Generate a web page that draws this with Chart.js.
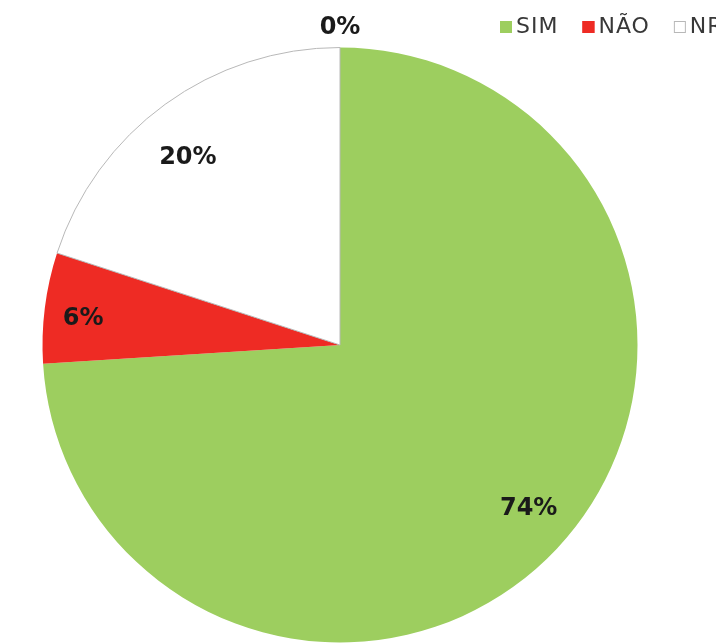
<!DOCTYPE html>
<html>
<head>
<meta charset="utf-8">
<script src="https://cdn.jsdelivr.net/npm/chart.js@4/dist/chart.umd.min.js"></script>
<style>
  html, body { margin: 0; padding: 0; background: #fff; }
  #grafico { display: block; }
</style>
</head>
<body>
<canvas id="grafico" width="716" height="643"></canvas>
<script>
// datos del grafico
const categorias = ["SIM", "NÃO", "NR", "NS"];
const valores = [74, 6, 20, 0];
const colores = ["#9dce5f", "#ee2b24", "#ffffff", "#a5a5a5"];
const bordes = ["#9dce5f", "#ee2b24", "#b8b8b8", "#a5a5a5"];

// etiquetas de porcentaje sobre cada porcion
const etiquetasPlugin = {
    id: "etiquetas",
    afterDatasetsDraw(chart) {
        const ctx = chart.ctx;
        const meta = chart.getDatasetMeta(0);
        ctx.save();
        ctx.font = "bold 24px 'DejaVu Sans'";
        ctx.fillStyle = "#1a1a1a";
        ctx.textAlign = "center";
        ctx.textBaseline = "middle";
        meta.data.forEach((arco, i) => {
            const medio = (arco.startAngle + arco.endAngle) / 2;
            const r = arco.outerRadius;
            let x = arco.x + Math.cos(medio) * r * 0.87;
            let y = arco.y + Math.sin(medio) * r * 0.79 + 3;
            if (valores[i] === 0) {
                // porcion vacia: etiqueta por fuera del borde
                x = arco.x + Math.cos(medio) * (r + 20);
                y = arco.y + Math.sin(medio) * (r + 20);
            }
            ctx.fillText(valores[i] + "%", x, y);
        });
        ctx.restore();
    }
};

// leyenda dibujada a mano (se corta en el borde derecho)
const leyendaPlugin = {
    id: "leyenda",
    afterDraw(chart) {
        const ctx = chart.ctx;
        ctx.save();
        ctx.font = "22px 'DejaVu Sans'";
        ctx.letterSpacing = "1px";
        ctx.textBaseline = "middle";
        let x = 500;
        const y = 27;
        categorias.forEach((nombre, i) => {
            ctx.fillStyle = colores[i];
            ctx.fillRect(x, y - 6, 12, 12);
            ctx.strokeStyle = bordes[i];
            ctx.lineWidth = 1;
            ctx.strokeRect(x + 0.5, y - 5.5, 11, 11);
            ctx.fillStyle = "#383838";
            ctx.fillText(nombre, x + 16, y);
            x += 16 + ctx.measureText(nombre).width + 24;
        });
        ctx.restore();
    }
};

const config = {
    type: "pie",
    data: {
        labels: categorias,
        datasets: [{
            data: valores,
            backgroundColor: colores,
            borderColor: bordes,
            borderWidth: [0, 0, 1, 0]
        }]
    },
    options: {
        responsive: false,
        animation: false,
        layout: { padding: { left: 42, right: 78, top: 47, bottom: 0 } },
        plugins: {
            legend: { display: false },
            tooltip: { enabled: false }
        }
    },
    plugins: [etiquetasPlugin, leyendaPlugin]
};

new Chart(document.getElementById("grafico"), config);
</script>
</body>
</html>
